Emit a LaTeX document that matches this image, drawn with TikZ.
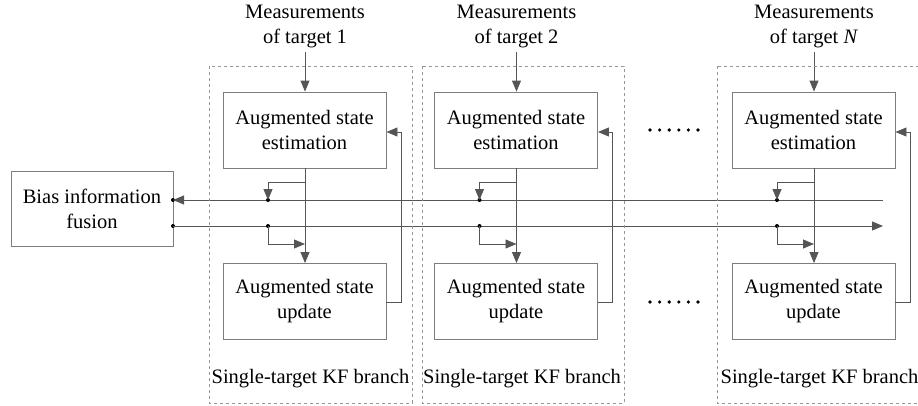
\documentclass[tikz,border=0pt]{standalone}
\usepackage{fontspec}
\setmainfont{Liberation Serif}
\usetikzlibrary{arrows.meta}
\definecolor{ln}{RGB}{85,85,85}
\definecolor{bx}{RGB}{125,125,125}
\definecolor{dsh}{RGB}{150,150,150}
\begin{document}
\begin{tikzpicture}[x=1pt,y=-1pt,
  font=\fontsize{20.5}{25}\selectfont,
  blk/.style={draw=bx,line width=0.9pt,minimum width=163pt,minimum height=76pt,align=center,inner sep=0pt},
  conn/.style={draw=ln,line width=0.9pt},
  arr/.style={conn,-{Triangle[length=11pt,width=9pt]}},
  dotc/.style={circle,fill=black,inner sep=0pt,minimum size=4pt},
  brbox/.style={draw=dsh,dashed,line width=0.8pt},
  ell/.style={circle,fill=black,inner sep=0pt,minimum size=3.6pt}]
\useasboundingbox (0,0) rectangle (918,405);
\node[blk,minimum width=162pt,minimum height=75pt] (bias) at (92,208.5) {Bias information\\fusion};
\coordinate (bT) at (173,200);
\coordinate (bB) at (173,226);
\node[dotc] at (bT) {};
\node[dotc] at (bB) {};
\coordinate (rT) at (883,200);
\coordinate (rB) at (883,226);
\draw[arr] (rT) -- (bT);
\draw[arr] (bB) -- (rB);
\foreach \i/\dx/\lab in {1/0/1, 2/211.5/2, 3/509/{\textit{N}}}{
  \begin{scope}[xshift=\dx]
    \node[align=center] (m\i) at (305,26.5) {Measurements\\of target \lab};
    \node[blk] (e\i) at (304.5,130) {Augmented state\\estimation};
    \node[blk] (u\i) at (304.5,301.5) {Augmented state\\update};
    \node (k\i) at (310.5,379) {Single-target KF branch};
    \coordinate (ms\i) at (305,52);
    \coordinate (eb\i) at (305,168);
    \coordinate (tap\i) at (305,182);
    \coordinate (tl\i) at (268,182);
    \coordinate (dT\i) at (268,200);
    \coordinate (dB\i) at (268,226);
    \coordinate (bl\i) at (268,244);
    \coordinate (br\i) at (305,244);
    \coordinate (fb1\i) at (401,302);
    \coordinate (fb2\i) at (401,132);
    \coordinate (fe\i) at (386,132);
    \node[dotc] at (dT\i) {};
    \node[dotc] at (dB\i) {};
    \draw[arr] (ms\i) -- (e\i.north -| ms\i);
    \draw[arr] (eb\i) -- (u\i.north -| eb\i);
    \draw[arr] (tap\i) -- (tl\i) -- (dT\i);
    \draw[arr] (dB\i) -- (bl\i) -- (br\i);
    \draw[arr] (u\i.east |- fb1\i) -- (fb1\i) -- (fb2\i) -- (e\i.east |- fe\i);
  \end{scope}
}
\draw[brbox] (209,66) rectangle (412,403);
\draw[brbox] (422,66) rectangle (624,403);
\draw[brbox] (717,66) rectangle (925,403);
\foreach \k in {0,...,5}{
  \node[ell] at (650+9.6*\k,130) {};
  \node[ell] at (650+9.6*\k,302) {};
}
\end{tikzpicture}
\end{document}
